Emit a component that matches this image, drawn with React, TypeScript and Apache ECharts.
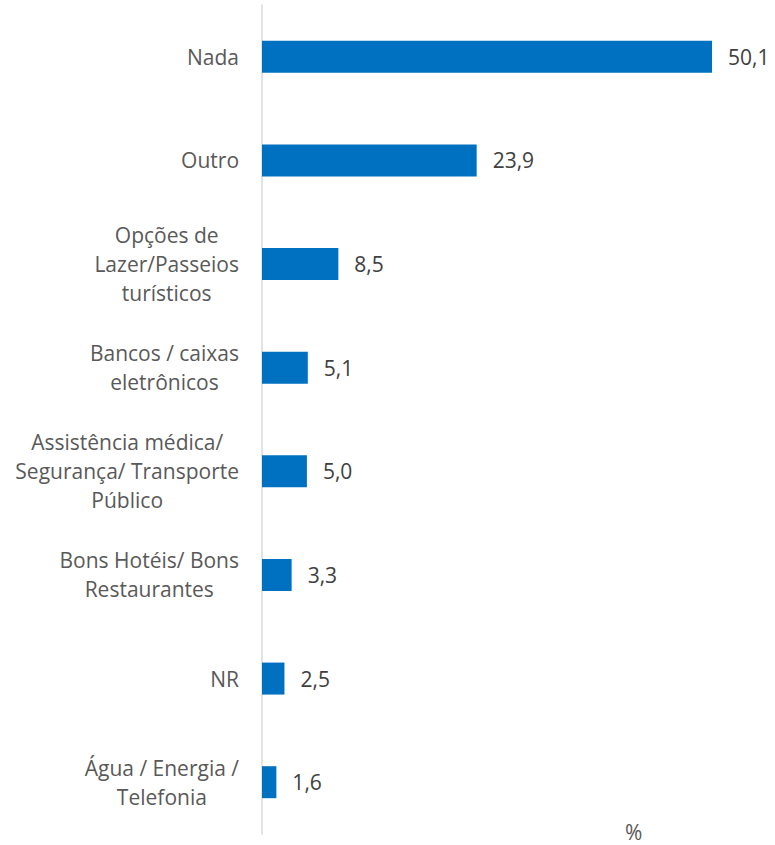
import React, { useEffect, useRef } from "react";
import * as echarts from "echarts";

const categories = [
  "Nada",
  "Outro",
  "Opções de\nLazer/Passeios\nturísticos",
  "Bancos / caixas\neletrônicos",
  "Assistência médica/\nSegurança/ Transporte\nPúblico",
  "Bons Hotéis/ Bons\nRestaurantes",
  "NR",
  "Água / Energia /\nTelefonia",
];
const values = [50.1, 23.9, 8.5, 5.1, 5.0, 3.3, 2.5, 1.6];
const unitLabel = "%";

const FONT = "Open Sans";

export default function App() {
  const ref = useRef<HTMLDivElement>(null);
  useEffect(() => {
    if (!ref.current) return;
    const chart = echarts.init(ref.current, undefined, { renderer: "svg" });
    chart.setOption({
      animation: false,
      grid: { left: 262, top: 5, bottom: 11, right: 19, containLabel: false },
      xAxis: {
        type: "value",
        min: 0,
        max: 55,
        show: false,
      },
      yAxis: {
        type: "category",
        inverse: true,
        data: categories,
        axisLine: { show: true, lineStyle: { color: "#D9D9D9", width: 1.5 } },
        axisTick: { show: false },
        axisLabel: {
          margin: 23,
          color: "#595959",
          fontFamily: FONT,
          fontSize: 21,
          lineHeight: 29,
          formatter: (v: string) =>
            v
              .split("\n")
              .map((l) => "{c|" + l + "}")
              .join("\n"),
          rich: {
            c: {
              align: "center",
              color: "#595959",
              fontFamily: FONT,
              fontSize: 21,
              lineHeight: 29,
            },
          },
        },
        splitLine: { show: false },
      },
      series: [
        {
          type: "bar",
          data: values,
          barWidth: 32,
          itemStyle: { color: "#0070C0" },
          label: {
            show: true,
            position: "right",
            distance: 16,
            color: "#404040",
            fontFamily: FONT,
            fontSize: 21,
            formatter: (p: any) => p.value.toFixed(1).replace(".", ","),
          },
        },
      ],
      graphic: [
        {
          type: "text",
          left: 625,
          top: 821,
          style: {
            text: unitLabel,
            fill: "#595959",
            font: "21px 'Open Sans'",
          },
        },
      ],
    });
    return () => chart.dispose();
  }, []);
  return (
    <div
      ref={ref}
      style={{ position: "absolute", left: 0, top: 0, width: 775, height: 845 }}
    />
  );
}
